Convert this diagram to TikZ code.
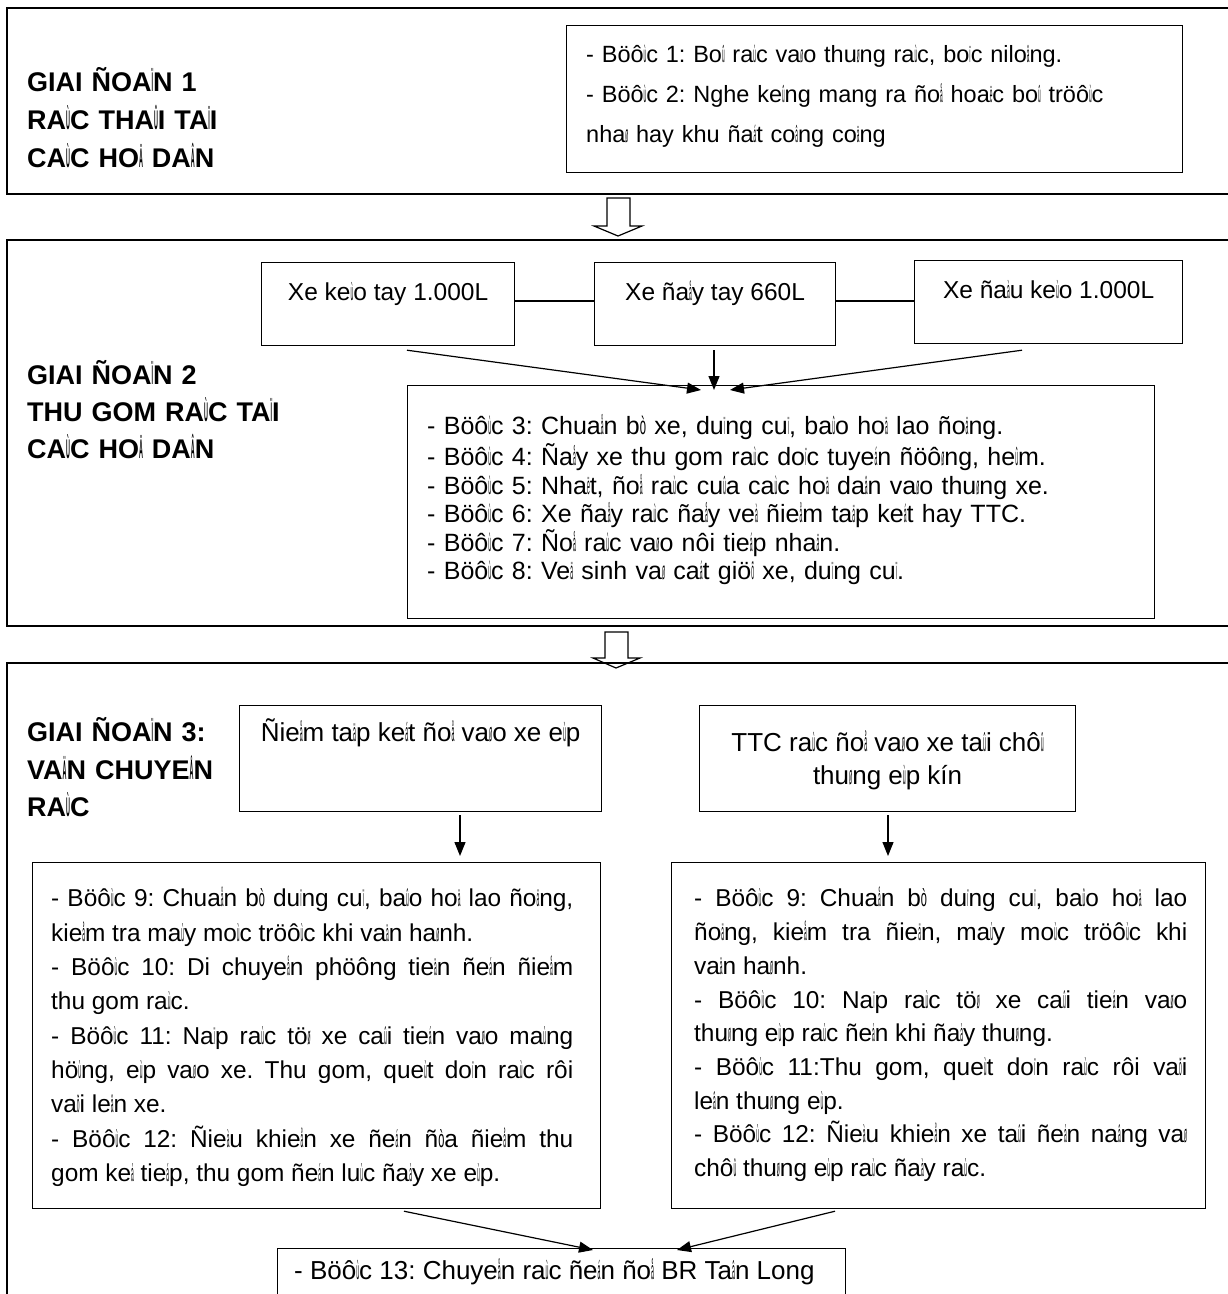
\documentclass[tikz,border=0pt]{standalone}
\usepackage{fontspec}
\setmainfont{Liberation Sans}
\usepackage{graphicx}
\usepackage{newunicodechar}
\usetikzlibrary{arrows.meta,calc}
% VNI tone/accent code points are printed squeezed, as in the reference
\newcommand\vnsq[1]{\scalebox{0.2}[1]{\char#1\relax}}
\newcommand\vnsi[1]{\scalebox{0.45}[1]{\char#1\relax}}
\newunicodechar{ù}{\vnsq{"F9}}\newunicodechar{ø}{\vnsq{"F8}}
\newunicodechar{û}{\vnsq{"FB}}\newunicodechar{õ}{\vnsq{"F5}}
\newunicodechar{ï}{\vnsq{"EF}}\newunicodechar{á}{\vnsq{"E1}}
\newunicodechar{à}{\vnsq{"E0}}\newunicodechar{å}{\vnsq{"E5}}
\newunicodechar{ã}{\vnsq{"E3}}\newunicodechar{ä}{\vnsq{"E4}}
\newunicodechar{â}{\vnsq{"E2}}\newunicodechar{é}{\vnsq{"E9}}
\newunicodechar{è}{\vnsq{"E8}}\newunicodechar{ë}{\vnsq{"EB}}
\newunicodechar{Ù}{\vnsq{"D9}}\newunicodechar{Û}{\vnsq{"DB}}
\newunicodechar{Ï}{\vnsq{"CF}}\newunicodechar{Ä}{\vnsq{"C4}}
\newunicodechar{Â}{\vnsq{"C2}}\newunicodechar{Å}{\vnsq{"C5}}
\newunicodechar{ò}{\vnsi{"F2}}
\tikzset{
  stage/.style={draw, line width=1.6pt, inner sep=0pt, anchor=north west},
  box/.style={draw, line width=1.2pt, inner sep=0pt, anchor=north west},
  lbl/.style={anchor=north west, inner sep=0pt, align=left, text width=300pt,
    font=\bfseries\fontsize{27}{38}\selectfont},
  txt/.style={anchor=north west, inner sep=0pt, align=left},
  jtxt/.style={anchor=north west, inner sep=0pt, align=justify},
  ctxt/.style={anchor=base, inner sep=0pt},
  conn/.style={line width=1.2pt},
  arr/.style={line width=1.2pt, -{Triangle[length=14pt,width=11pt]}},
  hollow/.style={draw, line width=1.2pt, fill=white},
}
\begin{document}
\frenchspacing
\begin{tikzpicture}[x=1pt,y=-1pt]
\useasboundingbox (0,0) rectangle (1228,1294);
\clip (0,0) rectangle (1228,1294);
% ---------------- stage 1
\node[stage, minimum width=1240pt, minimum height=186pt] (g1) at (6,7) {};
\node[lbl] (l1) at (27,65.1) {\strut GIAI ÑOAÏN 1\\RAÙC THAÛI TAÏI\\CAÙC HOÄ DAÂN};
\node[box, minimum width=616pt, minimum height=147pt] (s1) at (566,25) {};
\node[txt, text width=590pt, font=\fontsize{23.5}{40}\selectfont] (s1t) at (586,34.4)
  {\strut - Böôùc 1: Boû raùc vaøo thuøng raùc, boïc niloâng.\\
   - Böôùc 2: Nghe keûng mang ra ñoå hoaëc boû tröôùc\\
   nhaø hay khu ñaát coâng coäng};
% hollow arrow 1
\draw[hollow] (607,198) -- (630,198) -- (630,226) -- (642,226) -- (618,236)
  -- (594,226) -- (607,226) -- cycle;
% ---------------- stage 2
\node[stage, minimum width=1240pt, minimum height=386pt] (g2) at (6,239) {};
\node[lbl, font=\bfseries\fontsize{27}{37}\selectfont] (l2) at (27,358.8)
  {\strut GIAI ÑOAÏN 2\\THU GOM RAÙC TAÏI\\CAÙC HOÄ DAÂN};
\node[box, minimum width=253pt, minimum height=83pt] (xa) at (261,262) {};
\node[box, minimum width=241pt, minimum height=83pt] (xb) at (594,262) {};
\node[box, minimum width=268pt, minimum height=83pt] (xc) at (914,260) {};
\node[ctxt, font=\fontsize{24.5}{28}\selectfont] (xat) at ($(xa.north)+(0,38.8)$) {Xe keùo tay 1.000L};
\node[ctxt, font=\fontsize{24.5}{28}\selectfont] (xbt) at ($(xb.north)+(0,38.8)$) {Xe ñaåy tay 660L};
\node[ctxt, font=\fontsize{24.5}{28}\selectfont] (xct) at ($(xc.north)+(0,38.8)$) {Xe ñaàu keùo 1.000L};
\draw[conn] (xa.east |- 0,301) -- (xb.west |- 0,301);
\draw[conn] (xb.east |- 0,301) -- (xc.west |- 0,301);
\node[box, minimum width=747pt, minimum height=233pt] (s2) at (407,385) {};
\node[txt, text width=720pt, font=\fontsize{25}{28.4}\selectfont] (s2t) at (427,414.1)
  {\strut - Böôùc 3: Chuaån bò xe, duïng cuï, baûo hoä lao ñoäng.\\
   - Böôùc 4: Ñaåy xe thu gom raùc doïc tuyeán ñöôøng, heûm.\\
   - Böôùc 5: Nhaët, ñoå raùc cuûa caùc hoä daân vaøo thuøng xe.\\
   - Böôùc 6: Xe ñaåy raùc ñaåy veà ñieåm taäp keát hay TTC.\\
   - Böôùc 7: Ñoå raùc vaøo nôi tieáp nhaän.\\
   - Böôùc 8: Veä sinh vaø caát giöõ xe, duïng cuï.};
\draw[arr] ($(xa.south west)+(146,4)$) -- ($(s2.north west)+(294,5)$);
\draw[arr] ($(xb.south west)+(120,4)$) -- ($(s2.north west)+(307,5)$);
\draw[arr] ($(xc.south west)+(108,6)$) -- ($(s2.north west)+(323,5)$);
% hollow arrow 2
\draw[hollow] (605,632) -- (628,632) -- (628,658) -- (640,658) -- (616,668)
  -- (593,658) -- (605,658) -- cycle;
% ---------------- stage 3
\node[stage, minimum width=1240pt, minimum height=700pt] (g3) at (6,662) {};
\node[lbl, font=\bfseries\fontsize{27}{37.5}\selectfont] (l3) at (27,715.4)
  {\strut GIAI ÑOAÏN 3:\\VAÄN CHUYEÅN\\RAÙC};
\node[box, minimum width=362pt, minimum height=106pt] (ba) at (239,705) {};
\node[box, minimum width=376pt, minimum height=106pt] (bb) at (699,705) {};
\node[ctxt, font=\fontsize{26}{33}\selectfont] (bat) at ($(ba.north)+(0,36.3)$) {Ñieåm taäp keát ñoå vaøo xe eùp};
\node[anchor=north, inner sep=0pt, align=center, font=\fontsize{26}{33}\selectfont] (bbt) at ($(bb.north)+(0,23.2)$)
  {\strut TTC raùc ñoå vaøo xe taûi chôû\\thuøng eùp kín};
\node[box, minimum width=568pt, minimum height=346pt] (ca) at (32,862) {};
\node[box, minimum width=534pt, minimum height=346pt] (cb) at (671,862) {};
\node[jtxt, text width=522pt, font=\fontsize{24.4}{34.3}\selectfont] (cat) at (51,882.7)
  {\strut - Böôùc 9: Chuaån bò duïng cuï, baûo hoä lao ñoäng,\linebreak
   kieåm tra maùy moùc tröôùc khi vaän haønh.\par
   - Böôùc 10: Di chuyeån phöông tieän ñeán ñieåm\linebreak
   thu gom raùc.\par
   - Böôùc 11: Naïp raùc töø xe caûi tieán vaøo maùng\linebreak
   höùng, eùp vaøo xe. Thu gom, queùt doïn raùc rôi\linebreak
   vaõi leân xe.\par
   - Böôùc 12: Ñieàu khieån xe ñeán ñòa ñieåm thu\linebreak
   gom keá tieáp, thu gom ñeán luùc ñaày xe eùp.\par};
\node[jtxt, text width=493pt, font=\fontsize{24.4}{33.7}\selectfont] (cbt) at (694,883.1)
  {\strut - Böôùc 9: Chuaån bò duïng cuï, baûo hoä lao\linebreak
   ñoäng, kieåm tra ñieän, maùy moùc tröôùc khi\linebreak
   vaän haønh.\par
   - Böôùc 10: Naïp raùc töø xe caûi tieán vaøo\linebreak
   thuøng eùp raùc ñeán khi ñaày thuøng.\par
   - Böôùc 11:Thu gom, queùt doïn raùc rôi vaõi\linebreak
   leân thuøng eùp.\par
   - Böôùc 12: Ñieàu khieån xe taûi ñeán naâng vaø\linebreak
   chôû thuøng eùp raùc ñaày raùc.\par};
\node[box, minimum width=568pt, minimum height=80pt] (ea) at (277,1248) {};
\node[anchor=base west, inner sep=0pt, font=\fontsize{26}{33}\selectfont] (eat) at (294,1279)
  {- Böôùc 13: Chuyeån raùc ñeán ñoå BR Taân Long};
\draw[arr] ($(ba.south west)+(221,3)$) -- ($(ca.north west)+(428,-6)$);
\draw[arr] ($(bb.south west)+(189,3)$) -- ($(cb.north west)+(217,-6)$);
\draw[arr] ($(ca.south west)+(372,2)$) -- ($(ea.north west)+(316,2)$);
\draw[arr] ($(cb.south west)+(164,2)$) -- ($(ea.north west)+(400,2)$);
\end{tikzpicture}
\end{document}
